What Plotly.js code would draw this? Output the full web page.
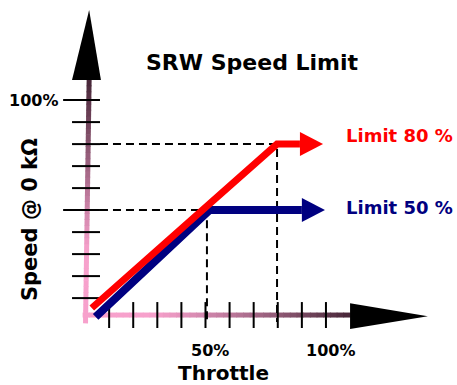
<!DOCTYPE html>
<html>
<head>
<meta charset="utf-8">
<script src="https://cdn.plot.ly/plotly-3.0.1.min.js"></script>
<style>html,body{margin:0;padding:0;background:#fff;}#chart{width:457px;height:385px;}</style>
</head>
<body>
<div id="chart"></div>
<script>
// ---- data ----
const tickValues = [10, 20, 30, 40, 50, 60, 70, 80, 90, 100];
const majorTicks = [50, 100];
const xTickLabels = ["50%", "100%"];
const xTickLabelValues = [52, 102];
const yTickLabels = ["100%"];
const yTickLabelValues = [100];

const limit80X = [2.8, 79.7, 89.2];
const limit80Y = [5.5, 80, 80];
const limit50X = [4.4, 51.7, 90];
const limit50Y = [1.5, 50, 50];
const limitLevels = [80, 50];
const limitGuideX = [79.7, 50.6];
const limitLabels = ["Limit 80 %", "Limit 50 %"];
const limitLabelY = [84.1, 51];
const limitColors = ["#ff0000", "#000080"];

const chartTitle = "SRW Speed Limit";
const xTitle = "Throttle";
const yTitle = "Speed @ 0 kΩ";

// ---- style constants ----
const X_RANGE = [-35.3, 154.4];
const Y_RANGE = [-29.5, 145.5];
const FONT = "DejaVu Sans";
const pink = [247, 161, 204];
const dark = [70, 38, 55];

function mix(t) {
  const c = pink.map((p, i) => Math.round(p + (dark[i] - p) * t));
  return "rgb(" + c.join(",") + ")";
}

const traces = [];
const shapes = [];

// gradient axes
const N = 40;
for (let i = 0; i < N; i++) {
  const a = -1 + 111 * i / N, b = -1 + 111 * (i + 1) / N;
  let t = (i + 0.5) / N;
  t = Math.max(0, (t - 0.25) / 0.75);
  shapes.push({type: "line", xref: "x", yref: "y", x0: a, x1: b + 0.3, y0: 2.3, y1: 2.3,
    line: {color: mix(Math.pow(t, 1.2)), width: 5}, layer: "below"});
}
for (let i = 0; i < N; i++) {
  const a = -1.5 + 110.6 * i / N, b = -1.5 + 110.6 * (i + 1) / N;
  const xa = 0.2 + 1.5 * i / N, xb = 0.2 + 1.5 * (i + 1) / N;
  let t = (i + 0.5) / N;
  t = Math.max(0, (t - 0.3) / 0.7);
  shapes.push({type: "line", xref: "x", yref: "y", x0: xa, x1: xb, y0: a, y1: b + 0.3,
    line: {color: mix(t), width: 5}, layer: "below"});
}

// axis arrowheads
traces.push({x: [110, 142.3, 110, 110], y: [7.7, 1.8, -4.1, 7.7], mode: "lines", fill: "toself",
  fillcolor: "#000", line: {color: "#000", width: 0}, hoverinfo: "skip"});
traces.push({x: [-5.4, 1.7, 6.6, -5.4], y: [109.1, 140.9, 109.1, 109.1], mode: "lines", fill: "toself",
  fillcolor: "#000", line: {color: "#000", width: 0}, hoverinfo: "skip"});

// ticks
const ytx = [], yty = [];
tickValues.forEach(v => {
  const left = majorTicks.includes(v) ? -9.1 : -5.4;
  ytx.push(left, 6.2, null); yty.push(v, v, null);
});
traces.push({x: ytx, y: yty, mode: "lines", line: {color: "#000", width: 2}, hoverinfo: "skip"});
const xtx = [], xty = [];
tickValues.forEach(v => { xtx.push(v, v, null); xty.push(8.2, -3.6, null); });
traces.push({x: xtx, y: xty, mode: "lines", line: {color: "#000", width: 2}, hoverinfo: "skip"});

// dashed guide lines
limitLevels.forEach((lv, i) => {
  const cx = limitGuideX[i];
  traces.push({x: [6.2, cx, cx], y: [lv, lv, -0.9], mode: "lines",
    line: {color: "#000", width: 2, dash: "8px,5px"}, hoverinfo: "skip"});
});

// limit lines + arrowheads (blue first, red on top)
const series = [
  {x: limit50X, y: limit50Y, color: limitColors[1], w: 8},
  {x: limit80X, y: limit80Y, color: limitColors[0], w: 7}
];
series.forEach(s => {
  traces.push({x: s.x, y: s.y, mode: "lines", line: {color: s.color, width: s.w}, hoverinfo: "skip"});
  const bx = s.x[s.x.length - 1], by = s.y[s.y.length - 1];
  const len = 9.6, half = 5.45;
  traces.push({x: [bx, bx + len, bx, bx], y: [by + half, by, by - half, by + half], mode: "lines",
    fill: "toself", fillcolor: s.color, line: {color: s.color, width: 0}, hoverinfo: "skip"});
});

const annotations = [];
annotations.push({x: 69.5, y: 117.3, xref: "x", yref: "y", text: "<b>" + chartTitle + "</b>", showarrow: false,
  font: {family: FONT, size: 22, color: "#000"}});
annotations.push({x: 57.3, y: -24.2, xref: "x", yref: "y", text: "<b>" + xTitle + "</b>", showarrow: false,
  font: {family: FONT, size: 20, color: "#000"}});
annotations.push({x: -22.8, y: 45.5, xref: "x", yref: "y", text: "<b>" + yTitle + "</b>", showarrow: false,
  textangle: -90, font: {family: FONT, size: 21, color: "#000"}});
xTickLabels.forEach((t, i) => annotations.push({x: xTickLabelValues[i], y: -13.6, xref: "x", yref: "y",
  text: "<b>" + t + "</b>", showarrow: false, font: {family: FONT, size: 16, color: "#000"}}));
yTickLabels.forEach((t, i) => annotations.push({x: -21.2, y: yTickLabelValues[i], xref: "x", yref: "y",
  text: "<b>" + t + "</b>", showarrow: false, font: {family: FONT, size: 16, color: "#000"}}));
limitLabels.forEach((t, i) => annotations.push({x: 130.7, y: limitLabelY[i], xref: "x", yref: "y",
  text: "<b>" + t + "</b>", showarrow: false, font: {family: FONT, size: 18, color: limitColors[i]}}));

const layout = {
  width: 457, height: 385,
  margin: {l: 0, r: 0, t: 0, b: 0},
  paper_bgcolor: "#fff", plot_bgcolor: "#fff",
  showlegend: false, hovermode: false,
  xaxis: {range: X_RANGE, visible: false, fixedrange: true},
  yaxis: {range: Y_RANGE, visible: false, fixedrange: true},
  shapes: shapes,
  annotations: annotations
};
Plotly.newPlot("chart", traces, layout, {displayModeBar: false, staticPlot: true});
</script>
</body>
</html>
